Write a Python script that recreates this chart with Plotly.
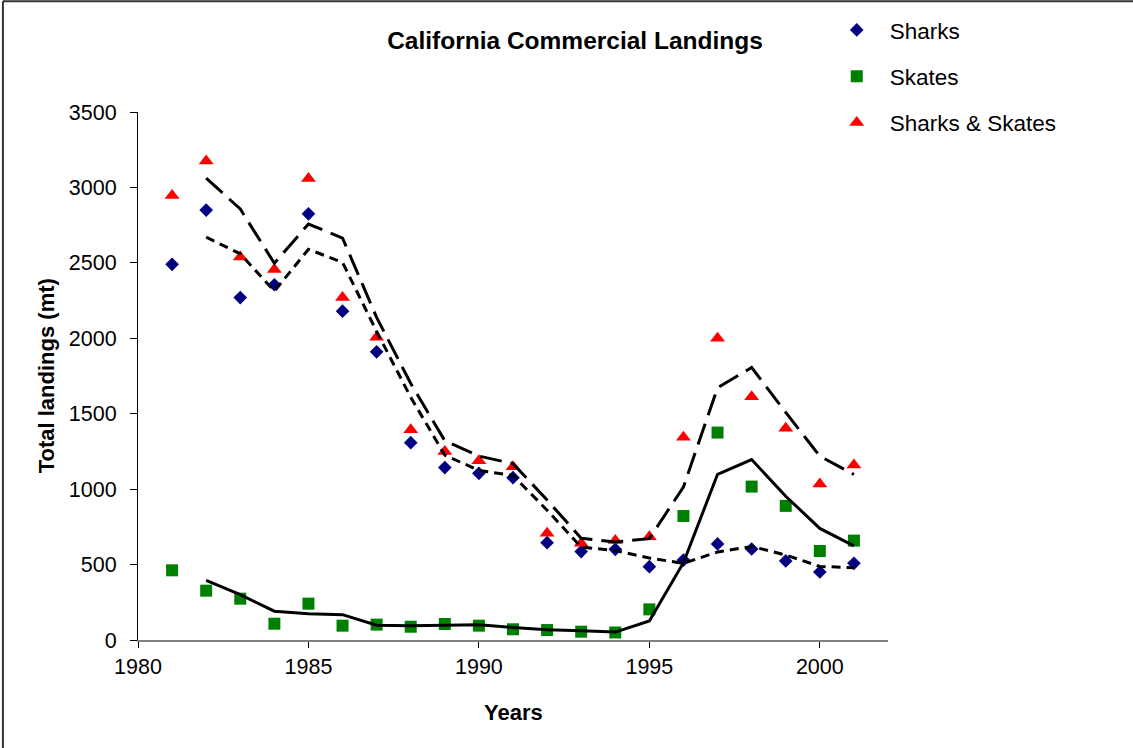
import plotly.graph_objects as go
import pandas as pd

years = list(range(1981, 2002))
sharks = [2490, 2850, 2270, 2355, 2825, 2180, 1910, 1308, 1143, 1105, 1076,
          645, 586, 601, 486, 530, 637, 603, 524, 451, 508]
skates = [462, 327, 274, 108, 241, 95, 102, 88, 106, 95, 71,
          66, 55, 50, 203, 822, 1375, 1017, 889, 590, 659]
total = [2946, 3176, 2538, 2456, 3059, 2270, 2007, 1393, 1249, 1189, 1149,
         707, 641, 659, 685, 1344, 2000, 1613, 1404, 1034, 1160]

# 2-period moving-average trendlines (as in the original chart)
ma_sharks = pd.Series(sharks).rolling(2).mean()
ma_skates = pd.Series(skates).rolling(2).mean()
ma_total = pd.Series(total).rolling(2).mean()

FONT = "Liberation Sans, Arial, sans-serif"

fig = go.Figure()
fig.add_trace(go.Scatter(x=years, y=sharks, mode="markers", name="Sharks",
                         legendgroup="a",
                         marker=dict(symbol="diamond", size=10.5, color="#000080")))
fig.add_trace(go.Scatter(x=years, y=skates, mode="markers", name="Skates",
                         legendgroup="b",
                         marker=dict(symbol="square", size=12, color="#008000")))
fig.add_trace(go.Scatter(x=years, y=total, mode="markers", name="Sharks & Skates",
                         legendgroup="c",
                         marker=dict(symbol="triangle-up", size=13, color="#FF0000")))

fig.add_trace(go.Scatter(x=years, y=ma_sharks, mode="lines", showlegend=False,
                         line=dict(color="black", width=3, dash="9px,6px")))
fig.add_trace(go.Scatter(x=years, y=ma_skates, mode="lines", showlegend=False,
                         line=dict(color="black", width=3)))
fig.add_trace(go.Scatter(x=years, y=ma_total, mode="lines", showlegend=False,
                         line=dict(color="black", width=3, dash="22px,9px")))

W, H = 1133, 748
# plot area in pixels
L, R, T, B = 137.7, 888.3, 112.2, 640.0
pw, ph = R - L, B - T

def px(x):
    return (x - L) / pw

def py(y):
    return (B - y) / ph

fig.update_layout(
    width=W, height=H,
    margin=dict(l=L, r=W - R, t=T, b=H - B, pad=0, autoexpand=False),
    paper_bgcolor="white", plot_bgcolor="white",
    font=dict(family=FONT, color="black", size=21.5),
    title=dict(text="<b>California Commercial Landings</b>",
               x=575 / W, xref="container", xanchor="center",
               y=1 - 40 / H, yref="container", yanchor="middle",
               font=dict(size=24.5, family=FONT, color="black")),
    legend=dict(x=px(824), y=py(9), xanchor="left", yanchor="top",
                font=dict(size=22.5, family=FONT, color="black"),
                traceorder="grouped", tracegroupgap=14,
                itemwidth=56, bgcolor="rgba(0,0,0,0)"),
    showlegend=True,
)

fig.update_xaxes(range=[1980, 2002], tickmode="array",
                 tickvals=[1980, 1985, 1990, 1995, 2000],
                 ticks="outside", ticklen=6, tickcolor="black", tickwidth=1,
                 showline=True, linecolor="#808080", linewidth=2,
                 showgrid=False, zeroline=False,
                 tickfont=dict(size=21.5, family=FONT, color="black"))
fig.update_yaxes(range=[0, 3500], tickmode="array",
                 tickvals=[0, 500, 1000, 1500, 2000, 2500, 3000, 3500],
                 ticks="outside", ticklen=7, tickcolor="black", tickwidth=1,
                 ticklabelstandoff=9,
                 showline=True, linecolor="black", linewidth=1,
                 showgrid=False, zeroline=False,
                 tickfont=dict(size=21.5, family=FONT, color="black"))

fig.add_annotation(text="<b>Years</b>", xref="paper", yref="paper",
                   x=px(513), y=py(712), showarrow=False,
                   xanchor="center", yanchor="middle",
                   font=dict(size=22, family=FONT, color="black"))
fig.add_annotation(text="<b>Total landings (mt)</b>", xref="paper", yref="paper",
                   x=px(47), y=py(376), showarrow=False, textangle=-90,
                   xanchor="center", yanchor="middle",
                   font=dict(size=22, family=FONT, color="black"))

# chart-area border (visible on left and top)
fig.add_shape(type="line", xref="paper", yref="paper",
              x0=px(2.5), x1=px(2.5), y0=py(1.5), y1=py(760),
              line=dict(color="#333333", width=2))
fig.add_shape(type="line", xref="paper", yref="paper",
              x0=px(2.5), x1=px(1140), y0=py(1.5), y1=py(1.5),
              line=dict(color="#333333", width=2))

fig.write_html(
    "out.html",
    config={"displayModeBar": False},
    post_script="document.body.style.margin='0';document.body.style.overflow='hidden';",
)
